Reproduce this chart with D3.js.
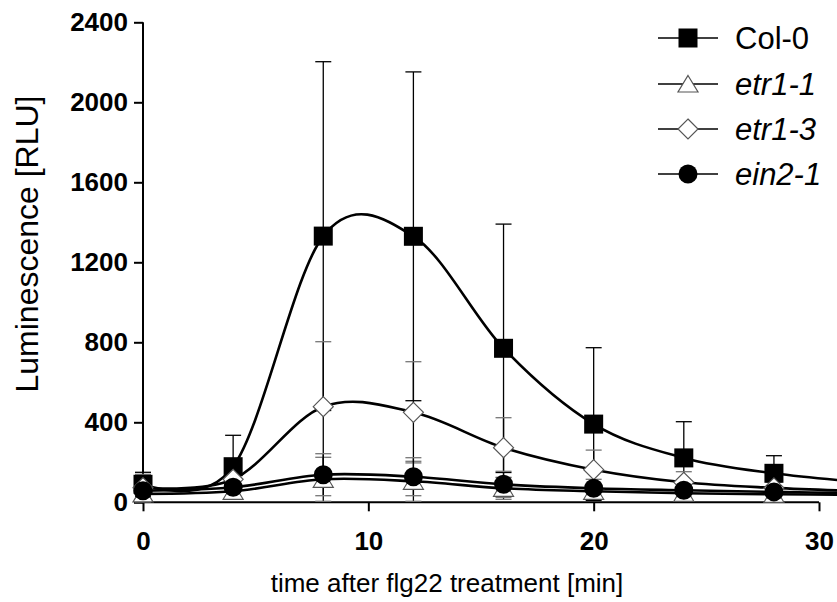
<!DOCTYPE html>
<html><head><meta charset="utf-8">
<script src="https://cdn.jsdelivr.net/npm/d3@7"></script>
<style>body{margin:0;background:#fff}svg{display:block;font-family:"Liberation Sans",Arial,sans-serif}</style>
</head><body><svg id="c" width="837" height="602"></svg>
<script>
const times=[0,4,8,12,16,20,24,28,32];
const seriesNames=["Col-0","etr1-1","etr1-3","ein2-1"];
const col0=[90,178,1331,1330,770,391,222,145,100];
const col0Err=[60,157,872,822,621,382,181,88,50];
const etr11=[42,55,115,105,70,55,45,40,38];
const etr11Err=[40,30,110,100,55,40,35,30,20];
const etr13=[73,115,478,450,273,163,100,72,55];
const etr13Err=[67,30,325,253,150,98,53,30,20];
const ein21=[58,75,138,128,90,70,60,52,45];
const ein21Err=[40,25,105,95,65,45,35,30,20];
const xTicks=[0,10,20,30];
const yTicks=[0,400,800,1200,1600,2000,2400];
const xTitle="time after flg22 treatment [min]";
const yTitle="Luminescence [RLU]";

const svg=d3.select("#c");
const x=d3.scaleLinear().domain([0,30]).range([143,819]);
const y=d3.scaleLinear().domain([0,2400]).range([502.3,22.3]);

const series=[
 {name:seriesNames[0],vals:col0,err:col0Err,shape:"square",italic:false,errColor:"#000"},
 {name:seriesNames[1],vals:etr11,err:etr11Err,shape:"triangle",italic:true,errColor:"#777"},
 {name:seriesNames[2],vals:etr13,err:etr13Err,shape:"diamond",italic:true,errColor:"#777"},
 {name:seriesNames[3],vals:ein21,err:ein21Err,shape:"circle",italic:true,errColor:"#777"}
];

// axes
const ya=svg.append("g").attr("transform","translate(143,0)")
 .call(d3.axisLeft(y).tickValues(yTicks).tickFormat(d3.format("d")).tickSize(9).tickSizeOuter(0).tickPadding(6));
ya.select(".domain").attr("stroke-width",2).attr("d","M0,"+y(2400)+"V"+(y(0)+1));
ya.selectAll(".tick line").attr("stroke-width",2);
ya.selectAll("text").attr("font-size",26).attr("font-weight","bold").attr("font-family","Liberation Sans, Arial").attr("fill","#000");

const xa=svg.append("g").attr("transform","translate(0,502.3)")
 .call(d3.axisBottom(x).tickValues(xTicks).tickFormat(d3.format("d")).tickSize(9).tickSizeOuter(0).tickPadding(20));
xa.select(".domain").attr("stroke-width",2).attr("d","M"+x(0)+",0H"+x(30));
xa.selectAll(".tick line").attr("stroke-width",2);
xa.selectAll("text").attr("font-size",26).attr("font-weight","bold").attr("font-family","Liberation Sans, Arial").attr("fill","#000");

svg.append("text").attr("x",447).attr("y",592).attr("text-anchor","middle")
 .attr("font-size",26).text(xTitle);
svg.append("text").attr("transform","translate(38,244) rotate(-90)").attr("text-anchor","middle")
 .attr("font-size",32).text(yTitle);

function marker(g,shape){
 if(shape==="square") g.append("rect").attr("x",-9.5).attr("y",-9.5).attr("width",19).attr("height",19).attr("fill","#000");
 else if(shape==="circle") g.append("circle").attr("r",9.5).attr("fill","#000");
 else if(shape==="diamond") g.append("path").attr("d","M0,-10L10,0L0,10L-10,0Z").attr("fill","#fff").attr("stroke","#555").attr("stroke-width",1.2);
 else g.append("path").attr("d","M0,-8.5L10,8L-10,8Z").attr("fill","#fff").attr("stroke","#555").attr("stroke-width",1.2);
}

// error bars
series.forEach(s=>{
 const g=svg.append("g").attr("stroke",s.errColor).attr("stroke-width",1.3);
 times.forEach((t,i)=>{
  const hi=s.vals[i]+s.err[i], lo=Math.max(0,s.vals[i]-s.err[i]);
  g.append("line").attr("x1",x(t)).attr("x2",x(t)).attr("y1",y(hi)).attr("y2",y(lo)).attr("stroke","#000");
  [hi,lo].forEach(v=>g.append("line").attr("x1",x(t)-8).attr("x2",x(t)+8).attr("y1",y(v)).attr("y2",y(v)));
 });
});

const line=d3.line().x((d,i)=>x(times[i])).y(d=>y(d)).curve(d3.curveCardinal.tension(0));
series.forEach(s=>{
 svg.append("path").attr("d",line(s.vals)).attr("fill","none").attr("stroke","#000").attr("stroke-width",2.6);
 times.forEach((t,i)=>{
  const g=svg.append("g").attr("transform","translate("+x(t)+","+y(s.vals[i])+")");
  marker(g,s.shape);
 });
});

// legend
const legY=[38,84,129,174];
series.forEach((s,i)=>{
 const g=svg.append("g").attr("transform","translate(688,"+legY[i]+")");
 g.append("line").attr("x1",-30).attr("x2",30).attr("stroke","#000").attr("stroke-width",1.6);
 marker(g,s.shape);
 g.append("text").attr("x",47).attr("y",11).attr("font-size",31)
  .attr("font-style",s.italic?"italic":"normal").text(s.name);
});
</script></body></html>
